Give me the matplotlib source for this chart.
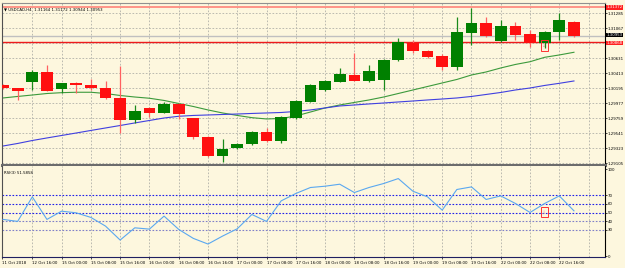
import numpy as np
import matplotlib.pyplot as plt
from matplotlib.patches import Rectangle

title_text = "USDCAD,H4  1.31164 1.31172 1.30944 1.30953"

opens  = [1.30243, 1.30195, 1.30291, 1.30436, 1.30180, 1.30276, 1.30243, 1.30204, 1.30058, 1.29734,
          1.29913, 1.29840, 1.29967, 1.29759, 1.29492, 1.29211, 1.29323, 1.29381, 1.29564, 1.29433,
          1.29768, 1.30000, 1.30170, 1.30291, 1.30388, 1.30301, 1.30315, 1.30606, 1.30849, 1.30737,
          1.30664, 1.30509, 1.31003, 1.31148, 1.30886, 1.31100, 1.30979, 1.30849, 1.31009, 1.31164]
highs  = [1.30260, 1.30200, 1.30461, 1.30533, 1.30275, 1.30285, 1.30330, 1.30301, 1.30523, 1.29952,
          1.29925, 1.30000, 1.29975, 1.29770, 1.29500, 1.29454, 1.29400, 1.29575, 1.29622, 1.29790,
          1.30025, 1.30255, 1.30315, 1.30485, 1.30703, 1.30533, 1.30620, 1.30921, 1.30897, 1.30750,
          1.30693, 1.31226, 1.31357, 1.31235, 1.31187, 1.31162, 1.31042, 1.31020, 1.31285, 1.31172]
lows   = [1.30180, 1.30025, 1.30170, 1.30150, 1.30122, 1.30131, 1.30170, 1.30040, 1.29541, 1.29695,
          1.29782, 1.29830, 1.29744, 1.29454, 1.29200, 1.29128, 1.29310, 1.29370, 1.29420, 1.29404,
          1.29755, 1.29990, 1.30155, 1.30280, 1.30295, 1.30290, 1.30170, 1.30595, 1.30703, 1.30630,
          1.30461, 1.30461, 1.30824, 1.30945, 1.30870, 1.30897, 1.30799, 1.30776, 1.30897, 1.30944]
closes = [1.30192, 1.30160, 1.30436, 1.30160, 1.30267, 1.30247, 1.30195, 1.30058, 1.29734, 1.29865,
          1.29832, 1.29967, 1.29817, 1.29483, 1.29211, 1.29313, 1.29386, 1.29564, 1.29433, 1.29782,
          1.30010, 1.30243, 1.30301, 1.30403, 1.30305, 1.30446, 1.30606, 1.30863, 1.30737, 1.30645,
          1.30509, 1.31009, 1.31148, 1.30959, 1.31100, 1.30969, 1.30849, 1.31009, 1.31187, 1.30953]

ma_fast = [1.30054, 1.30076, 1.30097, 1.30119, 1.30131, 1.30137, 1.30137, 1.30119, 1.30090, 1.30068,
           1.30050, 1.30018, 1.29974, 1.29930, 1.29880, 1.29836, 1.29800, 1.29768, 1.29749, 1.29756,
           1.29792, 1.29850, 1.29909, 1.29952, 1.29989, 1.30025, 1.30068, 1.30119, 1.30170, 1.30221,
           1.30272, 1.30323, 1.30388, 1.30432, 1.30490, 1.30541, 1.30581, 1.30645, 1.30679, 1.30718]
ma_slow = [1.29356, 1.29393, 1.29436, 1.29473, 1.29509, 1.29545, 1.29582, 1.29618, 1.29654, 1.29691,
           1.29727, 1.29763, 1.29788, 1.29800, 1.29807, 1.29814, 1.29821, 1.29829, 1.29836, 1.29843,
           1.29858, 1.29880, 1.29909, 1.29938, 1.29952, 1.29967, 1.29981, 1.29996, 1.30010, 1.30025,
           1.30039, 1.30054, 1.30076, 1.30105, 1.30134, 1.30170, 1.30199, 1.30236, 1.30267, 1.30301]

rsi = [42.2, 39.9, 68.2, 42.2, 51.7, 49.8, 44.5, 34.5, 18.4, 32.5,
       31.0, 46.0, 30.7, 20.3, 13.8, 23.0, 31.4, 47.9, 39.9, 63.6,
       72.1, 79.0, 80.5, 82.8, 73.2, 79.0, 83.6, 89.3, 74.7, 68.2,
       52.9, 76.7, 79.7, 65.2, 69.3, 60.6, 50.2, 60.6, 69.3, 52.1]
rsi_label = "RSI(3) 51.5858"
rsi_levels = [70, 60, 50, 40, 30]
rsi_ticks = [100, 70, 60, 50, 40, 30, 0]

price_ticks = [1.29105, 1.29323, 1.29541, 1.29759, 1.29977, 1.30195,
               1.30413, 1.30631, 1.30849, 1.31067, 1.31285]
red_levels = [1.31372, 1.30868]
bid = 1.30953

time_labels = ["11 Oct 2018", "12 Oct 16:00", "15 Oct 00:00", "15 Oct 08:00", "15 Oct 16:00",
               "16 Oct 00:00", "16 Oct 08:00", "16 Oct 16:00", "17 Oct 00:00", "17 Oct 08:00",
               "17 Oct 16:00", "18 Oct 00:00", "18 Oct 08:00", "18 Oct 16:00", "19 Oct 00:00",
               "19 Oct 08:00", "19 Oct 16:00", "22 Oct 00:00", "22 Oct 08:00", "22 Oct 16:00"]
marked_bar = 37

bg = '#fdf7de'
grid_c = '#b0b0a8'
fs = 2.8

W, H = 625, 268
fig = plt.figure(figsize=(W / 100, H / 100), dpi=100, facecolor=bg)

def box(x0, y0, x1, y1):
    return [x0 / W, 1 - y1 / H, (x1 - x0) / W, (y1 - y0) / H]

ax = fig.add_axes(box(2, 3, 605, 165), facecolor=bg)
ax2 = fig.add_axes(box(2, 166, 605, 257), facecolor=bg, sharex=ax)

x = np.arange(len(opens))
o = np.array(opens); c = np.array(closes)
up = c >= o
col = np.where(up, '#008000', '#ff1010')
wick = np.where(up, '#1a8a1a', '#ff6060')

ax.set_xlim(-0.07, 41.12)
ax.set_ylim(1.29080, 1.31434)

# grille
grid_x = np.arange(2, 41, 2)
for gx in grid_x:
    ax.axvline(gx, color=grid_c, lw=0.6, ls=(0, (2, 2)), zorder=0)
    ax2.axvline(gx, color=grid_c, lw=0.6, ls=(0, (2, 2)), zorder=0)
for p in price_ticks:
    ax.axhline(p, color=grid_c, lw=0.6, ls=(0, (2, 2)), zorder=0)

# moyennes mobiles
ax.plot(x, ma_fast, color='#3c9a3c', lw=0.8, zorder=2)
ax.plot(x, ma_slow, color='#4040e0', lw=0.8, zorder=2)

# bougies
ax.vlines(x, lows, highs, colors=wick, lw=0.9, zorder=3)
ax.bar(x, np.abs(c - o), bottom=np.minimum(o, c), width=0.8, color=col, lw=0, zorder=4)

# lignes horizontales
ax.axhline(red_levels[0], color='#ff8c80', lw=1.3, zorder=1)
ax.axhline(bid, color='#c0c0c0', lw=1.0, zorder=1)
ax.axhline(red_levels[1], color='#ee1c1c', lw=1.0, zorder=1)

ax.text(0.004, 0.975, "\u25bc " + title_text, transform=ax.transAxes, fontsize=fs,
        va='top', ha='left', color='black')

# axe des prix
ax.yaxis.tick_right()
ax.set_yticks(price_ticks)
ax.set_yticklabels([f"{p:.5f}" for p in price_ticks])
ax.tick_params(axis='y', labelsize=fs, length=1.2, pad=0.8, width=0.5, colors='black')
ax.tick_params(axis='x', bottom=False, labelbottom=False)

# étiquettes des lignes (décalées pour ne pas se chevaucher)
for p, fc, dy in [(red_levels[0], '#ff2020', 0), (bid, 'black', 0.8), (red_levels[1], '#ff2020', -0.8)]:
    ax.annotate(f"{p:.5f}", xy=(1.0, p), xycoords=('axes fraction', 'data'),
                xytext=(1.2, dy), textcoords='offset points', fontsize=fs, color='white',
                va='center', ha='left',
                bbox=dict(boxstyle='square,pad=0.08', fc=fc, ec='none'))

# repère sur la bougie marquée
ax.add_patch(Rectangle((marked_bar - 0.25, 1.30737), 0.48, 0.00160, fill=False,
                       ec='#ff3030', lw=0.7, zorder=5))
ax.text(marked_bar - 0.01, 1.30817, "\u2193", fontsize=3.5, color='#d09090',
        ha='center', va='center', zorder=5)

# RSI
ax2.set_ylim(-1.15, 103.8)
for lv in rsi_levels:
    lc = '#2020e8' if lv >= 50 else '#8080c8'
    ax2.axhline(lv, color=lc, lw=0.8, ls=(0, (1.5, 1.5)), zorder=1)
ax2.plot(x, rsi, color='#5aa8f0', lw=0.8, zorder=3)
ax2.text(0.004, 0.95, rsi_label, transform=ax2.transAxes, fontsize=fs, va='top', ha='left')
ax2.add_patch(Rectangle((marked_bar - 0.25, 44.8), 0.48, 11.5, fill=False,
                        ec='#ff3030', lw=0.7, zorder=5))
ax2.text(marked_bar - 0.01, 50.5, "\u2193", fontsize=3.5, color='#d09090',
         ha='center', va='center', zorder=5)

ax2.yaxis.tick_right()
ax2.set_yticks(rsi_ticks)
ax2.set_yticklabels([str(t) for t in rsi_ticks])
ax2.tick_params(axis='y', labelsize=fs, length=1.2, pad=0.8, width=0.5)

ax2.set_xticks([-0.07] + list(grid_x[:-1]))
ax2.set_xticklabels(time_labels, ha='left')
ax2.tick_params(axis='x', labelsize=fs, length=1.5, pad=1.2, width=0.5)

# bordures
for a in (ax, ax2):
    a.spines['left'].set_color('#505050')
    a.spines['right'].set_color('black')
    for s in a.spines.values():
        s.set_linewidth(0.8)
ax.spines['top'].set_color('#909090')
ax.spines['bottom'].set_color('#6c6c6c')
ax.spines['bottom'].set_linewidth(2.2)
ax2.spines['top'].set_visible(False)
ax2.spines['bottom'].set_color('#202060')

fig.savefig('out.png', dpi=100, facecolor=bg)
